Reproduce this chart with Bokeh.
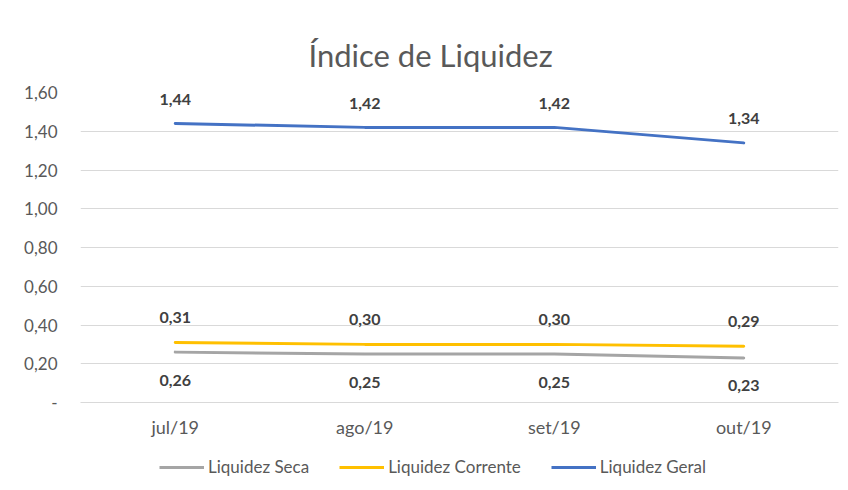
from bokeh.plotting import figure
from bokeh.layouts import column
from bokeh.models import (ColumnDataSource, FixedTicker, CustomJSTickFormatter,
                          Legend, LegendItem, Range1d)
from bokeh.core.properties import value
from bokeh.embed import file_html
from bokeh.resources import INLINE

months = ["jul/19", "ago/19", "set/19", "out/19"]
liquidez_seca = [0.26, 0.25, 0.25, 0.23]
liquidez_corrente = [0.31, 0.30, 0.30, 0.29]
liquidez_geral = [1.44, 1.42, 1.42, 1.34]
y_ticks = [0.0, 0.2, 0.4, 0.6, 0.8, 1.0, 1.2, 1.4, 1.6]

FONT = "Lato"
GRAY = "#595959"

p = figure(x_range=months, y_range=Range1d(0, 1.6), width=840, height=450,
           output_backend="svg", toolbar_location=None,
           min_border_left=80, min_border_right=2, min_border_top=92, min_border_bottom=48)
p.outline_line_color = None
p.background_fill_color = "white"
p.border_fill_color = "white"

p.title.text = "Índice de Liquidez"
p.title.align = "left"
p.title.text_font = FONT
p.title.text_font_size = "31px"
p.title.text_font_style = "normal"
p.title.text_color = GRAY
p.title.offset = 228
p.title.standoff = 36
p.title.vertical_align = "middle"

p.yaxis.ticker = FixedTicker(ticks=y_ticks)
p.yaxis.formatter = CustomJSTickFormatter(
    code="return tick == 0 ? '-' : tick.toFixed(2).replace('.', ',');")
p.yaxis.axis_line_color = None
p.yaxis.major_tick_line_color = None
p.yaxis.minor_tick_line_color = None
p.yaxis.major_label_text_font = FONT
p.yaxis.major_label_text_font_size = "17px"
p.yaxis.major_label_text_color = GRAY
p.yaxis.major_label_standoff = 17

p.xaxis.axis_line_color = "#D9D9D9"
p.xaxis.major_tick_line_color = None
p.xaxis.major_label_text_font = FONT
p.xaxis.major_label_text_font_size = "18px"
p.xaxis.major_label_text_color = GRAY
p.xaxis.major_label_standoff = 7

p.xgrid.grid_line_color = None
p.ygrid.grid_line_color = "#D9D9D9"
p.ygrid.grid_line_width = 1

series = [
    ("Liquidez Seca", liquidez_seca, "#A5A5A5", 28),
    ("Liquidez Corrente", liquidez_corrente, "#FFC000", -25),
    ("Liquidez Geral", liquidez_geral, "#4472C4", -24),
]

# legend strip (separate figure below the chart; its lines fall outside its range)
lg = figure(width=840, height=32, x_range=p.x_range, y_range=Range1d(10, 11),
            output_backend="svg", toolbar_location=None,
            min_border_left=0, min_border_right=0, min_border_top=0, min_border_bottom=0)
lg.axis.visible = False
lg.grid.grid_line_color = None
lg.outline_line_color = None

items = []
for name, vals, color, off in series:
    src = ColumnDataSource(dict(x=months, y=vals,
                                lbl=[f"{v:.2f}".replace(".", ",") for v in vals]))
    p.line("x", "y", source=src, line_color=color, line_width=3, line_cap="round")
    p.text("x", "y", text="lbl", source=src, y_offset=off, text_align="center",
           text_baseline="middle", text_font=value(FONT), text_font_size="16px",
           text_font_style="bold", text_color="#404040")
    r = lg.line("x", "y", source=src, line_color=color, line_width=3)
    items.append(LegendItem(label=name, renderers=[r]))

legend = Legend(items=items, orientation="horizontal", location=(79, 5),
                label_text_font=FONT, label_text_font_size="17px",
                label_text_color=GRAY, glyph_width=45, spacing=30,
                label_standoff=4, border_line_color=None,
                background_fill_alpha=0, padding=2, margin=0)
lg.add_layout(legend, "center")

layout = column(p, lg, spacing=0)
open("out.html", "w").write(file_html(layout, INLINE))
